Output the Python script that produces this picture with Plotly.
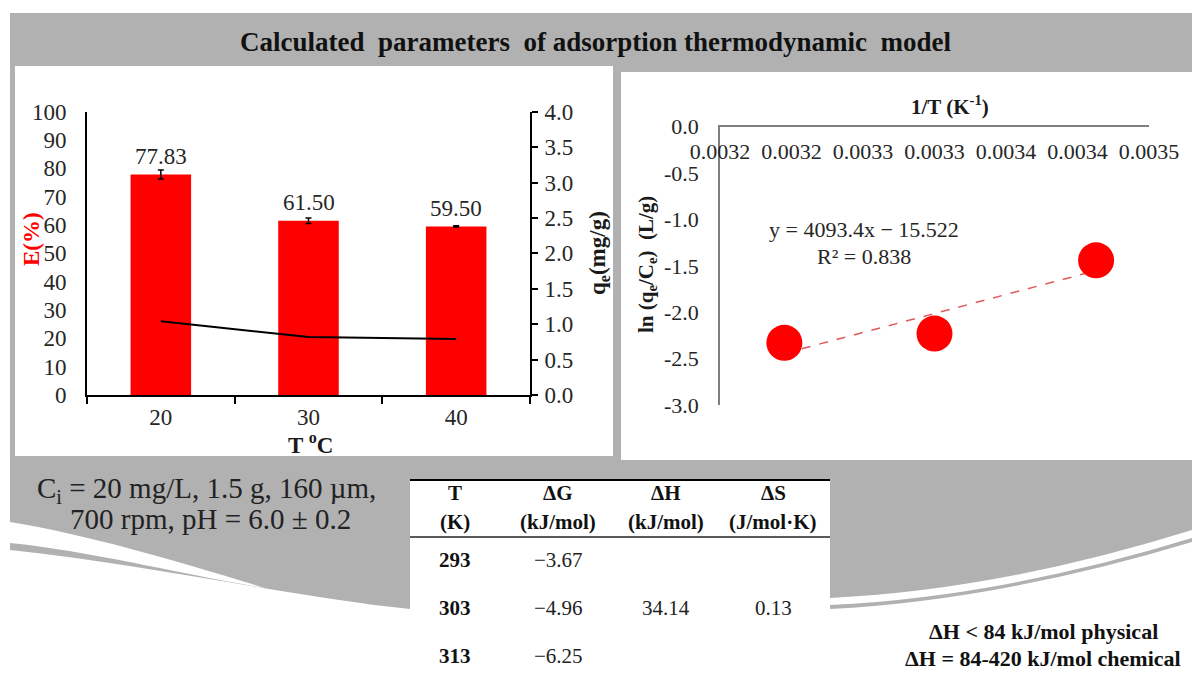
import plotly.graph_objects as go

# ---------------- data ----------------
temps_c = ["20", "30", "40"]
removal_pct = [77.83, 61.50, 59.50]
removal_err = [1.6, 1.0, 0.2]
qe_mg_g = [1.04, 0.82, 0.79]

inv_T = [0.003195, 0.003300, 0.003413]
ln_kd = [-2.33, -2.23, -1.44]
fit_slope = 4093.4
fit_intercept = -15.522
fit_r2 = 0.838

x2_tickvals = [0.00315, 0.00320, 0.00325, 0.00330, 0.00335, 0.00340, 0.00345]
x2_ticktext = ["0.0032", "0.0032", "0.0033", "0.0033", "0.0034", "0.0034", "0.0035"]
y3_tickvals = [0.0, -0.5, -1.0, -1.5, -2.0, -2.5, -3.0]
y3_ticktext = ["0.0", "-0.5", "-1.0", "-1.5", "-2.0", "-2.5", "-3.0"]

table_head1 = ["T", "ΔG", "ΔH", "ΔS"]
table_head2 = ["(K)", "(kJ/mol)", "(kJ/mol)", "(J/mol·K)"]
table_T = ["293", "303", "313"]
table_dG = [-3.67, -4.96, -6.25]
table_dH = 34.14
table_dS = 0.13

# ---------------- helpers ----------------
W, H = 1192, 674
FONT = "Liberation Serif"
GRAY = "#B1B1B1"


def fx(x):
    return x / W


def fy(y):
    return 1 - y / H


def pth(cmds):
    out = []
    for c in cmds:
        if isinstance(c, str):
            out.append(c)
        else:
            out.append(f"{fx(c[0]):.5f},{fy(c[1]):.5f}")
    return " ".join(out)


fig = go.Figure()

# ---- left chart ----
fig.add_trace(go.Bar(
    x=temps_c, y=removal_pct, width=0.41,
    marker=dict(color="#FF0000", line=dict(width=0)),
    error_y=dict(type="data", array=removal_err, color="black", thickness=1.5, width=3),
    xaxis="x", yaxis="y", showlegend=False,
))
fig.add_trace(go.Scatter(
    x=temps_c, y=qe_mg_g, mode="lines",
    line=dict(color="black", width=2),
    xaxis="x", yaxis="y2", showlegend=False,
))

# ---- right chart ----
fit_x = [inv_T[0], inv_T[-1]]
fit_y = [fit_slope * v + fit_intercept for v in fit_x]
fig.add_trace(go.Scatter(
    x=fit_x, y=fit_y, mode="lines",
    line=dict(color="#E05A5A", width=1.5, dash="dash"),
    xaxis="x2", yaxis="y3", showlegend=False,
))
fig.add_trace(go.Scatter(
    x=inv_T, y=ln_kd, mode="markers",
    marker=dict(color="#FF0000", size=36, line=dict(width=0)),
    xaxis="x2", yaxis="y3", showlegend=False, cliponaxis=False,
))

tickfont = dict(family=FONT, size=23, color="#262626")
tickfont_r = dict(family=FONT, size=22, color="#262626")

fig.update_layout(
    width=W, height=H,
    margin=dict(l=0, r=0, t=0, b=0),
    paper_bgcolor="white", plot_bgcolor="rgba(0,0,0,0)",
    font=dict(family=FONT, color="#1a1a1a"),
    showlegend=False,
    xaxis=dict(
        domain=[fx(87), fx(530)], anchor="y", type="category", range=[-0.5, 2.5],
        showline=True, linecolor="black", linewidth=2,
        ticks="outside", tickson="boundaries", ticklen=7, tickwidth=2, tickcolor="black",
        tickfont=tickfont, showgrid=False, zeroline=False, automargin=False,
    ),
    yaxis=dict(
        domain=[fy(395), fy(111.7)], anchor="x", range=[0, 100], dtick=10,
        showline=True, linecolor="black", linewidth=2, ticks="",
        ticklabelstandoff=14, tickfont=tickfont,
        showgrid=False, zeroline=False, automargin=False,
    ),
    yaxis2=dict(
        overlaying="y", side="right", anchor="x", range=[0, 4], dtick=0.5, tickformat=".1f",
        showline=True, linecolor="black", linewidth=2,
        ticks="outside", ticklen=6, tickwidth=2, tickcolor="black",
        ticklabelstandoff=2, tickfont=tickfont,
        showgrid=False, zeroline=False, automargin=False,
    ),
    xaxis2=dict(
        domain=[fx(720), fx(1149)], anchor="y3", range=[0.00315, 0.00345], side="top",
        tickvals=x2_tickvals, ticktext=x2_ticktext,
        ticklabelposition="inside", ticklabeloverflow="allow", ticklabelstandoff=19,
        showline=True, linecolor="#7F7F7F", linewidth=1.5, ticks="",
        tickfont=tickfont_r,
        showgrid=False, zeroline=False, automargin=False,
    ),
    yaxis3=dict(
        domain=[fy(405), fy(126.7)], anchor="x2", range=[-3, 0],
        tickvals=y3_tickvals, ticktext=y3_ticktext,
        showline=True, linecolor="#7F7F7F", linewidth=1.5, ticks="",
        ticklabelstandoff=15, tickfont=tickfont_r,
        showgrid=False, zeroline=False, automargin=False,
    ),
)

# ---------------- background shapes ----------------
shapes = []
gray_path = pth([
    "M", (10, 13), "L", (1192, 13), "L", (1192, 542),
    "Q", (1000, 600), (830, 609),
    "L", (410, 609),
    "C", (300, 598), (150, 565), (10, 550),
    "Z",
])
shapes.append(dict(type="path", path=gray_path, xref="paper", yref="paper",
                   fillcolor=GRAY, line=dict(width=0), layer="below"))
left_swoosh = pth([
    "M", (10, 522), "C", (90, 535), (180, 562), (265, 588),
    "C", (180, 574), (90, 551), (10, 543), "Z",
])
right_swoosh = pth([
    "M", (830, 598), "Q", (1000, 590), (1192, 530),
    "L", (1192, 538), "Q", (1000, 597), (830, 605), "Z",
])
for p in (left_swoosh, right_swoosh):
    shapes.append(dict(type="path", path=p, xref="paper", yref="paper",
                       fillcolor="white", line=dict(width=0), layer="below"))
for (x0, y0, x1, y1) in [(15, 66, 613, 456), (621, 72, 1192, 460), (410, 480, 830, 674)]:
    shapes.append(dict(type="rect", xref="paper", yref="paper",
                       x0=fx(x0), x1=fx(x1), y0=fy(y1), y1=fy(y0),
                       fillcolor="white", line=dict(width=0), layer="below"))
shapes.append(dict(type="line", xref="paper", yref="paper", x0=fx(410), x1=fx(830),
                   y0=fy(480), y1=fy(480), line=dict(color="black", width=2), layer="above"))
shapes.append(dict(type="line", xref="paper", yref="paper", x0=fx(410), x1=fx(830),
                   y0=fy(537), y1=fy(537), line=dict(color="#222222", width=1.5), layer="above"))
fig.update_layout(shapes=shapes)

# ---------------- texts ----------------
ann = []


def txt(x, y, text, size, bold=False, color="#1a1a1a", angle=0, xanchor="center"):
    t = f"<b>{text}</b>" if bold else text
    ann.append(dict(x=fx(x), y=fy(y), xref="paper", yref="paper", text=t, showarrow=False,
                    xanchor=xanchor, yanchor="middle", textangle=angle,
                    font=dict(family=FONT, size=size, color=color)))


txt(595, 42, "Calculated  parameters  of adsorption thermodynamic  model", 27, bold=True, color="#111111")

# bar value labels (category axis -> category index)
for i, v in enumerate(removal_pct):
    ann.append(dict(x=i, y=v, xref="x", yref="y", text=f"{v:.2f}", showarrow=False,
                    xanchor="center", yanchor="middle", yshift=18,
                    font=dict(family=FONT, size=23, color="#262626")))
txt(32, 239, "E(%)", 23, bold=True, color="#FF0000", angle=-90)
txt(599, 253, "q<sub>e</sub>(mg/g)", 23, bold=True, color="#1a1a1a", angle=-90)
txt(310, 443, "T <sup>o</sup>C", 23, bold=True, color="#1a1a1a")

# right chart labels
txt(950, 105, "1/T (K<sup>-1</sup>)", 21, bold=True)
txt(647, 265, "ln (q<sub>e</sub>/C<sub>e</sub>)  (L/g)", 21, bold=True, angle=-90)
txt(864, 229, f"y = {fit_slope}x − {abs(fit_intercept)}", 22, color="#262626")
txt(864, 256, f"R² = {fit_r2}", 22, color="#262626")

# conditions text
txt(206, 490, "C<sub>i</sub> = 20 mg/L, 1.5 g, 160 µm,", 29, color="#222222")
txt(210, 519, "700 rpm, pH = 6.0 ± 0.2", 29, color="#222222")

# table
col_x = [455, 558, 666, 773]
for cx, h1, h2 in zip(col_x, table_head1, table_head2):
    txt(cx, 493, h1, 21, bold=True, color="#111111")
    txt(cx, 522, h2, 21, bold=True, color="#111111")
row_y = [560, 608, 656]
for ry, tk, g in zip(row_y, table_T, table_dG):
    txt(col_x[0], ry, tk, 21, bold=True, color="#111111")
    txt(col_x[1], ry, f"−{abs(g):.2f}", 21, color="#222222")
txt(col_x[2], row_y[1], f"{table_dH:.2f}", 21, color="#222222")
txt(col_x[3], row_y[1], f"{table_dS:.2f}", 21, color="#222222")

# classification note
txt(1043, 631, "ΔH &lt; 84 kJ/mol physical", 22, bold=True, color="#111111")
txt(1043, 658, "ΔH = 84-420 kJ/mol chemical", 22, bold=True, color="#111111")

fig.update_layout(annotations=ann)

fig.write_html("out.html")
